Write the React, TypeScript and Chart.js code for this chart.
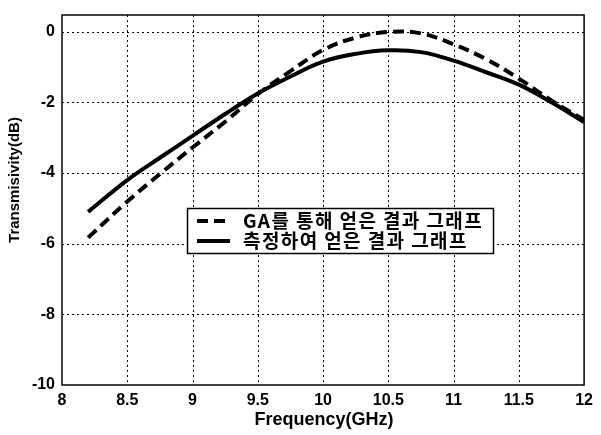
import { useEffect, useRef } from 'react';
import { Chart, registerables } from 'chart.js';

Chart.register(...registerables);

const frequencies = [8.2, 8.5, 8.75, 9, 9.25, 9.5, 9.75, 10, 10.25, 10.5, 10.75, 11, 11.25, 11.5, 11.75, 12];
const gaValues = [-5.83, -4.81, -4.03, -3.28, -2.55, -1.77, -1.12, -0.52, -0.17, -0.01, -0.05, -0.36, -0.78, -1.33, -1.95, -2.5];
const measuredValues = [-5.1, -4.2, -3.57, -2.95, -2.33, -1.75, -1.27, -0.85, -0.63, -0.53, -0.58, -0.82, -1.15, -1.5, -2.0, -2.56];
const xTicks = [8, 8.5, 9, 9.5, 10, 10.5, 11, 11.5, 12];
const yTicks = [-10, -8, -6, -4, -2, 0];
const seriesLabels = ['GA를 통해 얻은 결과 그래프', '측정하여 얻은 결과 그래프'];
const xTitle = 'Frequency(GHz)';
const yTitle = 'Transmisivity(dB)';

const LATIN = '"Liberation Sans", Arial, sans-serif';
const KR = '"Noto Sans CJK KR", "Liberation Sans", sans-serif';

const decorPlugin = {
  id: 'decor',
  beforeDatasetsDraw(chart: any) {
    const { ctx, chartArea: a, scales } = chart;
    ctx.save();
    ctx.strokeStyle = '#000';
    ctx.lineWidth = 1;
    ctx.setLineDash([2, 3]);
    xTicks.forEach((v) => {
      if (v === xTicks[0] || v === xTicks[xTicks.length - 1]) return;
      const x = Math.round(scales.x.getPixelForValue(v)) + 0.5;
      ctx.beginPath();
      ctx.moveTo(x, a.top);
      ctx.lineTo(x, a.bottom);
      ctx.stroke();
    });
    yTicks.forEach((v) => {
      if (v === yTicks[0]) return;
      const y = Math.round(scales.y.getPixelForValue(v)) + 0.5;
      ctx.beginPath();
      ctx.moveTo(a.left, y);
      ctx.lineTo(a.right, y);
      ctx.stroke();
    });
    ctx.setLineDash([]);
    ctx.lineWidth = 1.5;
    ctx.strokeRect(a.left, a.top, a.right - a.left, a.bottom - a.top);
    ctx.restore();
  },
  afterDatasetsDraw(chart: any) {
    const { ctx } = chart;
    ctx.save();
    // legend box
    const bx = 187.5, by = 208.5, bw = 306, bh = 45;
    ctx.fillStyle = '#fff';
    ctx.fillRect(bx, by, bw, bh);
    ctx.strokeStyle = '#000';
    ctx.lineWidth = 1.5;
    ctx.strokeRect(bx, by, bw, bh);
    const rows = [221, 241];
    ctx.lineWidth = 4;
    ctx.setLineDash([11, 6]);
    ctx.beginPath();
    ctx.moveTo(197, rows[0]);
    ctx.lineTo(230, rows[0]);
    ctx.stroke();
    ctx.setLineDash([]);
    ctx.beginPath();
    ctx.moveTo(197, rows[1]);
    ctx.lineTo(230, rows[1]);
    ctx.stroke();
    ctx.fillStyle = '#000';
    ctx.font = `bold 19px ${KR}`;
    ctx.textBaseline = 'middle';
    ctx.textAlign = 'left';
    (ctx as any).letterSpacing = '1.4px';
    seriesLabels.forEach((t, i) => ctx.fillText(t, 243, rows[i]));
    (ctx as any).letterSpacing = '0px';
    // axis titles
    ctx.font = `bold 18px ${LATIN}`;
    ctx.textAlign = 'center';
    ctx.fillText(xTitle, 324, 420);
    ctx.font = `bold 15px ${LATIN}`;
    ctx.translate(15, 180);
    ctx.rotate(-Math.PI / 2);
    ctx.fillText(yTitle, 0, 0);
    ctx.restore();
  },
};

export default function App() {
  const ref = useRef<HTMLCanvasElement | null>(null);
  useEffect(() => {
    if (!ref.current) return;
    const chart = new Chart(ref.current, {
      type: 'line',
      data: {
        datasets: [
          {
            label: seriesLabels[0],
            data: frequencies.map((f, i) => ({ x: f, y: gaValues[i] })),
            borderColor: '#000',
            borderWidth: 4,
            borderDash: [11, 6],
            pointRadius: 0,
            tension: 0.4,
            fill: false,
          },
          {
            label: seriesLabels[1],
            data: frequencies.map((f, i) => ({ x: f, y: measuredValues[i] })),
            borderColor: '#000',
            borderWidth: 4,
            pointRadius: 0,
            tension: 0.4,
            fill: false,
          },
        ],
      },
      options: {
        responsive: false,
        animation: false,
        layout: { padding: { top: 8, right: 11, left: 0, bottom: 0 } },
        plugins: { legend: { display: false }, tooltip: { enabled: false } },
        scales: {
          x: {
            type: 'linear',
            min: 8,
            max: 12,
            afterBuildTicks: (s: any) => {
              s.ticks = xTicks.map((v) => ({ value: v }));
            },
            afterFit: (s: any) => {
              s.height = 50;
            },
            grid: { display: false, drawTicks: false },
            border: { display: false },
            ticks: {
              color: '#000',
              padding: 8,
              maxRotation: 0,
              autoSkip: false,
              font: { family: LATIN, size: 16, weight: 'bold', lineHeight: 1 },
              callback: (v: any) => String(v),
            },
          },
          y: {
            type: 'linear',
            min: -10,
            max: 0.47,
            afterBuildTicks: (s: any) => {
              s.ticks = yTicks.map((v) => ({ value: v }));
            },
            afterFit: (s: any) => {
              s.width = 62;
            },
            grid: { display: false, drawTicks: false },
            border: { display: false },
            ticks: {
              color: '#000',
              padding: 7,
              autoSkip: false,
              font: { family: LATIN, size: 16, weight: 'bold', lineHeight: 1 },
              callback: (v: any) => String(v),
            },
          },
        },
      },
      plugins: [decorPlugin],
    } as any);
    return () => chart.destroy();
  }, []);
  return (
    <div style={{ position: 'fixed', left: 0, top: 0, width: 601, height: 435, background: '#fff' }}>
      <canvas ref={ref} width={601} height={435} />
    </div>
  );
}
